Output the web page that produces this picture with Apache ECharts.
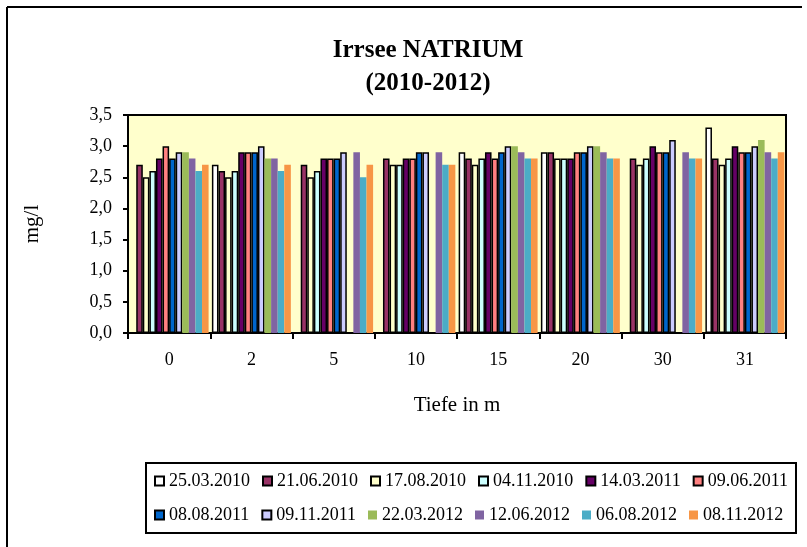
<!DOCTYPE html>
<html>
<head>
<meta charset="utf-8">
<script src="https://cdn.jsdelivr.net/npm/echarts@6/dist/echarts.min.js"></script>
<style>
html, body { margin: 0; padding: 0; background: #fff; }
#main { width: 807px; height: 547px; }
</style>
</head>
<body>
<div id="main"></div>
<script>
// Tiefe in m
const depths = ['0', '2', '5', '10', '15', '20', '30', '31'];
const yTicks = [0, 0.5, 1, 1.5, 2, 2.5, 3, 3.5];

// mg/l per sampling date (null = no bar)
const d250310 = [null, 2.7, null, null, 2.9, 2.9, null, 3.3];
const d210610 = [2.7, 2.6, 2.7, 2.8, 2.8, 2.9, 2.8, 2.8];
const d170810 = [2.5, 2.5, 2.5, 2.7, 2.7, 2.8, 2.7, 2.7];
const d041110 = [2.6, 2.6, 2.6, 2.7, 2.8, 2.8, 2.8, 2.8];
const d140311 = [2.8, 2.9, 2.8, 2.8, 2.9, 2.8, 3.0, 3.0];
const d090611 = [3.0, 2.9, 2.8, 2.8, 2.8, 2.9, 2.9, 2.9];
const d080811 = [2.8, 2.9, 2.8, 2.9, 2.9, 2.9, 2.9, 2.9];
const d091111 = [2.9, 3.0, 2.9, 2.9, 3.0, 3.0, 3.1, 3.0];
const d220312 = [2.9, 2.8, null, null, 3.0, 3.0, null, 3.1];
const d120612 = [2.8, 2.8, 2.9, 2.9, 2.9, 2.9, 2.9, 2.9];
const d060812 = [2.6, 2.6, 2.5, 2.7, 2.8, 2.8, 2.8, 2.8];
const d081112 = [2.7, 2.7, 2.7, 2.7, 2.8, 2.8, 2.8, 2.9];

const seriesNames = ['25.03.2010', '21.06.2010', '17.08.2010', '04.11.2010', '14.03.2011', '09.06.2011',
  '08.08.2011', '09.11.2011', '22.03.2012', '12.06.2012', '06.08.2012', '08.11.2012'];
const seriesData = [d250310, d210610, d170810, d041110, d140311, d090611,
  d080811, d091111, d220312, d120612, d060812, d081112];
const colors = ['#FFFFFF', '#993366', '#FFFFCC', '#CCFFFF', '#660066', '#FF8080',
  '#0066CC', '#CCCCFF', '#9BBB59', '#8064A2', '#4BACC6', '#F79646'];

const font = 'Liberation Serif';

const chart = echarts.init(document.getElementById('main'));

const series = seriesNames.map(function (name, i) {
  const bordered = i < 8;
  return {
    name: name,
    type: 'bar',
    data: seriesData[i],
    barGap: '0%',
    barCategoryGap: '4%',
    itemStyle: {
      color: colors[i],
      borderColor: bordered ? '#000' : colors[i],
      borderWidth: bordered ? 1.5 : 0
    }
  };
});

chart.setOption({
  animation: false,
  backgroundColor: '#fff',
  title: {
    text: 'Irrsee NATRIUM\n(2010-2012)',
    left: 423,
    textAlign: 'center',
    top: 29,
    textStyle: { fontFamily: font, fontWeight: 'bold', fontSize: 25, lineHeight: 33, color: '#000' }
  },
  grid: {
    left: 128, right: 21, top: 115, bottom: 214,
    show: true,
    backgroundColor: '#FFFFCC',
    borderColor: '#000',
    borderWidth: 2
  },
  legend: {
    data: seriesNames,
    left: 146,
    top: 463,
    width: 660,
    padding: [7, 8, 7, 8],
    itemWidth: 9,
    itemHeight: 9,
    itemGap: 12,
    borderColor: '#000',
    borderWidth: 2,
    icon: 'rect',
    textStyle: { fontFamily: font, fontSize: 18, lineHeight: 22, color: '#000' }
  },
  xAxis: {
    type: 'category',
    data: depths,
    name: 'Tiefe in m',
    nameLocation: 'middle',
    nameGap: 62,
    nameTextStyle: { fontFamily: font, fontSize: 21, color: '#000' },
    axisLine: { lineStyle: { color: '#000', width: 2 } },
    axisTick: { show: true, length: 6, lineStyle: { color: '#000', width: 2 } },
    axisLabel: { fontFamily: font, fontSize: 18, color: '#000', margin: 18 }
  },
  yAxis: {
    type: 'value',
    min: yTicks[0],
    max: yTicks[yTicks.length - 1],
    interval: 0.5,
    name: 'mg/l',
    nameLocation: 'middle',
    nameGap: 85,
    nameTextStyle: { fontFamily: font, fontSize: 21, color: '#000' },
    splitLine: { show: false },
    axisLine: { show: true, lineStyle: { color: '#000', width: 2 } },
    axisTick: { show: true, length: 5, lineStyle: { color: '#000', width: 2 } },
    axisLabel: {
      fontFamily: font, fontSize: 18, color: '#000', margin: 16,
      formatter: function (v) { return v.toFixed(1).replace('.', ','); }
    }
  },
  graphic: [
    { type: 'line', shape: { x1: 7, y1: 7, x2: 802, y2: 7 }, style: { stroke: '#000', lineWidth: 2 } },
    { type: 'line', shape: { x1: 7, y1: 7, x2: 7, y2: 547 }, style: { stroke: '#000', lineWidth: 2 } }
  ],
  series: series
});
</script>
</body>
</html>
